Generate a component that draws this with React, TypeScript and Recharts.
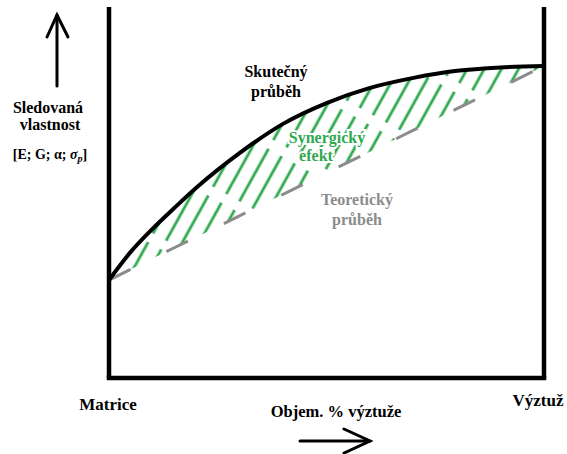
import React from "react";
import {
  Area,
  ComposedChart,
  Line,
  ReferenceLine,
  XAxis,
  YAxis,
} from "recharts";

// objemový podíl výztuže (%) a sledovaná vlastnost (rel. jednotky)
const pct = [0, 5, 10, 15, 20, 30, 40, 50, 60, 70, 80, 90, 100];
const skutecny = [26.4, 34.0, 40.2, 45.8, 51.2, 60.6, 68.5, 74.1, 78.2, 80.9, 82.8, 83.7, 84.1];
const teoreticky = [26.4, 29.3, 32.2, 35.1, 37.9, 43.7, 49.5, 55.3, 61.0, 66.8, 72.6, 78.3, 84.1];

const data = pct.map((x, i) => ({
  x,
  skut: skutecny[i],
  teor: teoreticky[i],
  pasmo: [teoreticky[i], skutecny[i]],
}));

const W = 567;
const H = 454;
const serif = "Liberation Serif";
const green = "#2fa84f";
const gray = "#8c8c8c";

function T(props: any) {
  const { size = 16, children, ...rest } = props;
  return (
    <text
      textAnchor="middle"
      fontFamily={serif}
      fontWeight="bold"
      fontSize={size}
      {...rest}
    >
      {children}
    </text>
  );
}

function Popisky() {
  return (
    <svg
      width={W}
      height={H}
      style={{ position: "absolute", left: 0, top: 0, pointerEvents: "none" }}
    >
      {/* šipka nahoru */}
      <g stroke="#000" strokeWidth={3} fill="none" strokeLinecap="round">
        <line x1={57} y1={86} x2={57} y2={15} />
        <polyline points="47,37 57,15 68,37" />
      </g>
      {/* šipka doprava */}
      <g stroke="#000" strokeWidth={3} fill="none" strokeLinecap="round">
        <line x1={300} y1={441} x2={370} y2={441} />
        <polyline points="344,429 370,441 344,453" />
      </g>

      <T x={48} y={113}>Sledovaná</T>
      <T x={50} y={130}>vlastnost</T>
      <T x={50} y={159} size={14}>
        [E; G; α; <tspan fontStyle="italic">σ</tspan>
        <tspan fontStyle="italic" fontSize={10} dy={3}>p</tspan>
        <tspan dy={-3}>]</tspan>
      </T>

      <T x={276} y={77}>Skutečný</T>
      <T x={276} y={97}>průběh</T>

      <T x={327} y={143} fill={green} stroke="#fff" strokeWidth={4} paintOrder="stroke">Synergický</T>
      <T x={316} y={161} fill={green} stroke="#fff" strokeWidth={4} paintOrder="stroke">efekt</T>

      <T x={357} y={205} fill={gray}>Teoretický</T>
      <T x={357} y={225} fill={gray}>průběh</T>

      <T x={108} y={410} size={17}>Matrice</T>
      <T x={538} y={406} size={17}>Výztuž</T>
      <T x={336} y={417} size={16.5}>Objem. % výztuže</T>
    </svg>
  );
}

export default function App() {
  return (
    <div style={{ position: "absolute", left: 0, top: 0, width: W, height: H, background: "#fff" }}>
      <ComposedChart
        width={W}
        height={H}
        data={data}
        margin={{ top: 7, right: 23, left: 109, bottom: 76 }}
      >
        <defs>
          <pattern
            id="srafy"
            patternUnits="userSpaceOnUse"
            width={15}
            height={70}
            patternTransform="rotate(29)"
          >
            <line
              x1={7}
              y1={0}
              x2={7}
              y2={70}
              stroke={green}
              strokeWidth={2.8}
              strokeDasharray="60 10"
            />
          </pattern>
        </defs>
        <XAxis dataKey="x" type="number" domain={[0, 100]} hide />
        <YAxis type="number" domain={[0, 100]} hide />
        <Area
          dataKey="pasmo"
          type="monotone"
          stroke="none"
          fill="url(#srafy)"
          fillOpacity={1}
          isAnimationActive={false}
        />
        <Line
          dataKey="teor"
          type="linear"
          stroke={gray}
          strokeWidth={3}
          strokeDasharray="24 40"
          dot={false}
          isAnimationActive={false}
        />
        <Line
          dataKey="skut"
          type="monotone"
          stroke="#000"
          strokeWidth={4}
          dot={false}
          isAnimationActive={false}
        />
        <ReferenceLine x={0} stroke="#000" strokeWidth={4.5} />
        <ReferenceLine x={100} stroke="#000" strokeWidth={4.5} />
        <ReferenceLine y={0} stroke="#000" strokeWidth={4.5} strokeLinecap="square" />
      </ComposedChart>
      <Popisky />
    </div>
  );
}
